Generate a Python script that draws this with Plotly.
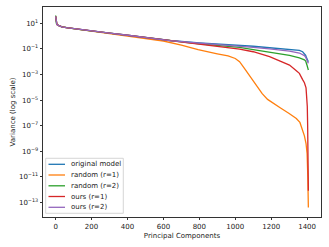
import plotly.graph_objects as go

# Series names and colours (matplotlib tab10)
names = ["original model", "random (r=1)", "random (r=2)", "ours (r=1)", "ours (r=2)"]
colors = ["#1f77b4", "#ff7f0e", "#2ca02c", "#d62728", "#9467bd"]

# Principal-component indices where values were read, and log10(variance)
early_x = [0, 1, 2, 4, 7, 12, 20, 35, 60, 100, 150, 200, 300, 400, 500]
early_log = [1.55, 1.35, 1.15, 1.0, 0.92, 0.86, 0.80, 0.73, 0.66, 0.58, 0.49, 0.40, 0.24, 0.07, -0.10]

blue_x = early_x + [636, 800, 900, 1024, 1100, 1191, 1260, 1302, 1357, 1375, 1385, 1392, 1397, 1400, 1404, 1407]
blue_log = early_log + [-0.34, -0.52, -0.61, -0.70, -0.79, -0.91, -0.99, -1.03, -1.12, -1.22, -1.35, -1.5, -1.7, -1.85, -1.95, -2.0]

orange_x = early_x + [600, 700, 793, 900, 960, 1000, 1024, 1050, 1089, 1120, 1150, 1180, 1209, 1250,
                      1300, 1340, 1360, 1375, 1385, 1394, 1400, 1404, 1406, 1407]
orange_log = [1.55, 1.35, 1.15, 1.0, 0.92, 0.86, 0.80, 0.73, 0.66, 0.58, 0.49, 0.39, 0.22, 0.04, -0.16,
              -0.38, -0.70, -1.06, -1.38, -1.55, -1.75, -2.0, -2.5, -3.3, -3.9, -4.5, -4.95, -5.25, -5.6,
              -6.05, -6.45, -6.75, -7.3, -7.8, -8.4, -9.2, -11.0, -12.5, -13.4]

green_x = early_x + [600, 700, 800, 900, 1024, 1100, 1191, 1260, 1302, 1357, 1375, 1385, 1392, 1397, 1400, 1404, 1407]
green_log = [1.62] + early_log[1:] + [-0.29, -0.45, -0.60, -0.73, -0.88, -1.05, -1.25, -1.4, -1.5, -1.7, -1.78,
                                      -1.85, -1.95, -2.1, -2.3, -2.5, -2.65]

red_x = early_x + [600, 700, 800, 900, 1024, 1100, 1191, 1250, 1302, 1340, 1357, 1375, 1385, 1394, 1398, 1401,
                   1403, 1405, 1407]
red_log = early_log + [-0.32, -0.48, -0.65, -0.80, -1.02, -1.22, -1.6, -1.95, -2.26, -2.7, -2.91, -3.4, -3.65,
                       -4.05, -4.6, -5.5, -7.0, -10.0, -12.1]

purple_x = early_x + [636, 800, 900, 1024, 1100, 1191, 1260, 1302, 1357, 1375, 1385, 1392, 1397, 1400, 1404, 1407]
purple_log = early_log + [-0.35, -0.55, -0.65, -0.76, -0.88, -1.0, -1.1, -1.17, -1.32, -1.42, -1.52, -1.65, -1.85,
                          -2.0, -2.1, -2.13]

series_x = [blue_x, orange_x, green_x, red_x, purple_x]
series_log = [blue_log, orange_log, green_log, red_log, purple_log]

x_ticks = [0, 200, 400, 600, 800, 1000, 1200, 1400]
y_exps = [1, -1, -3, -5, -7, -9, -11, -13]

FONT = "DejaVu Sans"
TXT = "#1a1a1a"

fig = go.Figure()
for name, col, xs, ls in zip(names, colors, series_x, series_log):
    fig.add_trace(go.Scatter(x=xs, y=[10 ** v for v in ls], mode="lines", name=name,
                             line=dict(color=col, width=1.3), showlegend=False))

def sup(e):
    return "10<sup>" + (str(e) if e >= 0 else "\u2212" + str(-e)) + "</sup>"

fig.update_layout(
    width=329, height=247,
    margin=dict(l=43, r=8, t=7, b=30),
    paper_bgcolor="white", plot_bgcolor="white",
    font=dict(family=FONT, size=7, color=TXT),
    xaxis=dict(range=[-70.35, 1477.35], tickvals=x_ticks, ticks="outside", ticklen=2.5, tickwidth=0.6,
               tickcolor="#333", showline=True, linecolor="#333", linewidth=0.8, mirror=True,
               showgrid=False, zeroline=False, automargin=False,
               title=dict(text="Principal Components", font=dict(size=7, color=TXT), standoff=3)),
    yaxis=dict(type="log", range=[-14.15, 2.28], tickvals=[10 ** e for e in y_exps],
               ticktext=[sup(e) for e in y_exps], ticks="outside", ticklen=2.5, tickwidth=0.6,
               tickcolor="#333", showline=True, linecolor="#333", linewidth=0.8, mirror=True,
               showgrid=False, zeroline=False, automargin=False,
               title=dict(text="Variance (log scale)", font=dict(size=7, color=TXT), standoff=2)),
)

# Legend box (lower left), drawn in paper coordinates
pw, ph = 278.0, 210.0
def px(xp):
    return (xp - 43) / pw
def py(yp):
    return (217 - yp) / ph

fig.add_shape(type="rect", xref="paper", yref="paper", x0=px(45.7), x1=px(123.3), y0=py(213.3), y1=py(158.3),
              line=dict(color="#cccccc", width=0.8), fillcolor="rgba(255,255,255,0.8)", layer="above")
row_y = [164.3, 175.0, 185.8, 196.5, 207.3]
for name, col, ry in zip(names, colors, row_y):
    fig.add_shape(type="line", xref="paper", yref="paper", x0=px(48.5), x1=px(65), y0=py(ry), y1=py(ry),
                  line=dict(color=col, width=1.3), layer="above")
    fig.add_annotation(xref="paper", yref="paper", x=px(69), y=py(ry), text=name, showarrow=False,
                       xanchor="left", yanchor="middle", font=dict(family=FONT, size=7, color=TXT))

fig.write_html("out.html", config={"displayModeBar": False},
               post_script="document.body.style.margin='0px';document.body.style.overflow='hidden';")
